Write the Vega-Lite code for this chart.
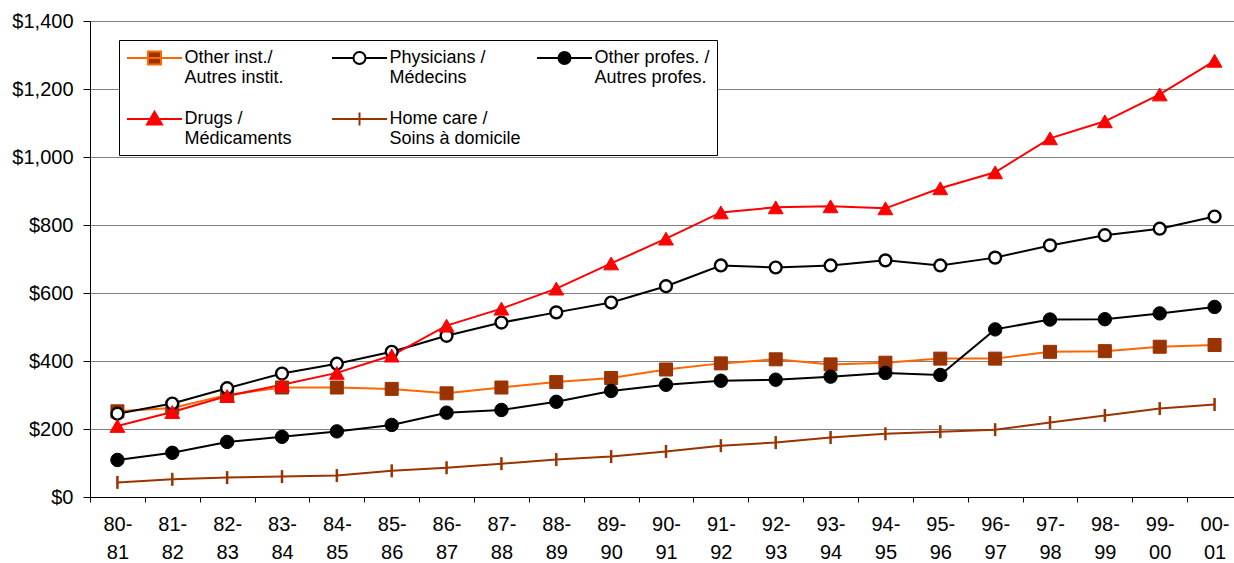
{
  "$schema": "https://vega.github.io/schema/vega-lite/v6.json",
  "autosize": "none",
  "width": 1152,
  "height": 476,
  "padding": {"left": 90, "top": 21, "right": 0, "bottom": 66},
  "background": "white",
  "config": {
    "view": {"stroke": null},
    "font": "Liberation Sans",
    "axis": {"labelFont": "Liberation Sans", "labelFontSize": 20, "labelColor": "black", "domainColor": "black", "tickColor": "black", "gridColor": "#808080", "gridWidth": 1.2, "title": null}
  },
  "data": {"values": [
    {"p": "80-81", "a": 252, "b": 245, "c": 109, "d": 209, "e": 43},
    {"p": "81-82", "a": 262, "b": 275, "c": 130, "d": 250, "e": 52},
    {"p": "82-83", "a": 300, "b": 320, "c": 162, "d": 297, "e": 57},
    {"p": "83-84", "a": 322, "b": 363, "c": 177, "d": 330, "e": 60},
    {"p": "84-85", "a": 322, "b": 392, "c": 193, "d": 365, "e": 63},
    {"p": "85-86", "a": 318, "b": 427, "c": 212, "d": 416, "e": 77},
    {"p": "86-87", "a": 305, "b": 474, "c": 248, "d": 504, "e": 86},
    {"p": "87-88", "a": 322, "b": 513, "c": 256, "d": 554, "e": 98},
    {"p": "88-89", "a": 338, "b": 543, "c": 280, "d": 613, "e": 110},
    {"p": "89-90", "a": 350, "b": 572, "c": 312, "d": 687, "e": 119},
    {"p": "90-91", "a": 375, "b": 620, "c": 330, "d": 760, "e": 134},
    {"p": "91-92", "a": 393, "b": 681, "c": 342, "d": 837, "e": 151},
    {"p": "92-93", "a": 405, "b": 675, "c": 345, "d": 852, "e": 160},
    {"p": "93-94", "a": 390, "b": 681, "c": 354, "d": 855, "e": 175},
    {"p": "94-95", "a": 395, "b": 696, "c": 365, "d": 849, "e": 186},
    {"p": "95-96", "a": 407, "b": 681, "c": 359, "d": 908, "e": 192},
    {"p": "96-97", "a": 407, "b": 704, "c": 493, "d": 955, "e": 198},
    {"p": "97-98", "a": 427, "b": 740, "c": 522, "d": 1055, "e": 219},
    {"p": "98-99", "a": 429, "b": 770, "c": 523, "d": 1105, "e": 240},
    {"p": "99-00", "a": 442, "b": 789, "c": 540, "d": 1184, "e": 260},
    {"p": "00-01", "a": 447, "b": 825, "c": 559, "d": 1283, "e": 272}
  ]},
  "transform": [{"fold": ["a", "b", "c", "d", "e"], "as": ["s", "v"]}],
  "encoding": {
    "x": {"field": "p", "type": "ordinal", "sort": null, "bandPosition": 0.5,
      "scale": {"type": "band", "paddingInner": 0, "paddingOuter": 0},
      "axis": {"tickBand": "extent", "tickSize": 5, "labelPadding": 12, "labelAngle": 0, "labelLineHeight": 28, "labelBaseline": "top",
        "labelExpr": "datum.label ? [split(datum.label,'-')[0] + '-', split(datum.label,'-')[1]] : ''"}},
    "y": {"field": "v", "type": "quantitative",
      "scale": {"domain": [0, 1400], "nice": false},
      "axis": {"values": [0, 200, 400, 600, 800, 1000, 1200, 1400], "format": "$,.0f", "tickSize": 7, "labelPadding": 10, "grid": true}}
  },
  "layer": [
    {"mark": {"type": "point", "filled": true, "strokeWidth": 2, "opacity": 0},
     "encoding": {
       "shape": {"field": "s", "type": "nominal",
         "scale": {"domain": ["a", "d", "b", "e", "c"], "range": [
           "M-2.75,0L2.75,0M-0.65,-0.65L0.65,-0.65L0.65,0.65L-0.65,0.65Z",
           "M-2.75,0L2.75,0M0,-0.72L0.75,0.55L-0.75,0.55Z",
           "M-2.75,0L-0.6,0M0.6,0L2.75,0M-0.6,0A0.6,0.6,0,1,0,0.6,0A0.6,0.6,0,1,0,-0.6,0Z",
           "M-2.75,0L2.75,0M0,-0.65L0,0.65",
           "M-2.75,0L2.75,0M-0.6,0A0.6,0.6,0,1,0,0.6,0A0.6,0.6,0,1,0,-0.6,0Z"]},
         "legend": {"title": null, "orient": "none", "legendX": 29, "legendY": 19, "columns": 3, "gridAlign": "all", "columnPadding": 12, "rowPadding": 20, "padding": 7,
           "strokeColor": "black", "fillColor": "white", "symbolSize": 400, "symbolOffset": 17.5, "symbolStrokeWidth": 2, "symbolOpacity": 1,
           "labelFont": "Liberation Sans", "labelFontSize": 18, "labelColor": "black", "labelOffset": 19, "labelBaseline": "middle", "labelLimit": 300,
           "labelExpr": "datum.value == 'a' ? ['Other inst./', 'Autres instit.'] : datum.value == 'b' ? ['Physicians /', 'Médecins'] : datum.value == 'c' ? ['Other profes. /', 'Autres profes.'] : datum.value == 'd' ? ['Drugs /', 'Médicaments'] : ['Home care /', 'Soins à domicile']"}},
       "fill": {"field": "s", "type": "nominal",
         "scale": {"domain": ["a", "d", "b", "e", "c"], "range": ["#993300", "#FF0000", "#FFFFFF", "#993300", "#000000"]},
         "legend": {"title": null}},
       "stroke": {"field": "s", "type": "nominal",
         "scale": {"domain": ["a", "d", "b", "e", "c"], "range": ["#FF6600", "#FF0000", "#000000", "#993300", "#000000"]},
         "legend": {"title": null}}
     }},
    {"mark": {"type": "line", "strokeWidth": 2},
     "encoding": {"color": {"field": "s", "type": "nominal", "legend": null,
       "scale": {"domain": ["a", "b", "c", "d", "e"], "range": ["#FF6600", "#000000", "#000000", "#FF0000", "#993300"]}}}},
    {"transform": [{"filter": "datum.s == 'a'"}],
     "mark": {"type": "point", "shape": "square", "size": 169, "filled": true, "fill": "#993300", "stroke": "#993300", "strokeWidth": 1, "opacity": 1}},
    {"transform": [{"filter": "datum.s == 'b'"}],
     "mark": {"type": "point", "shape": "circle", "size": 140, "filled": false, "fill": "white", "fillOpacity": 1, "stroke": "black", "strokeWidth": 2.4, "opacity": 1}},
    {"transform": [{"filter": "datum.s == 'c'"}],
     "mark": {"type": "point", "shape": "circle", "size": 180, "filled": true, "fill": "black", "stroke": "black", "strokeWidth": 1, "opacity": 1}},
    {"transform": [{"filter": "datum.s == 'd'"}],
     "mark": {"type": "point", "shape": "triangle-up", "size": 220, "filled": true, "fill": "#FF0000", "stroke": "#FF0000", "strokeWidth": 1, "opacity": 1}},
    {"transform": [{"filter": "datum.s == 'e'"}],
     "mark": {"type": "point", "shape": "M0,-1L0,1", "size": 169, "filled": false, "stroke": "#993300", "strokeWidth": 2.5, "opacity": 1}}
  ]
}
